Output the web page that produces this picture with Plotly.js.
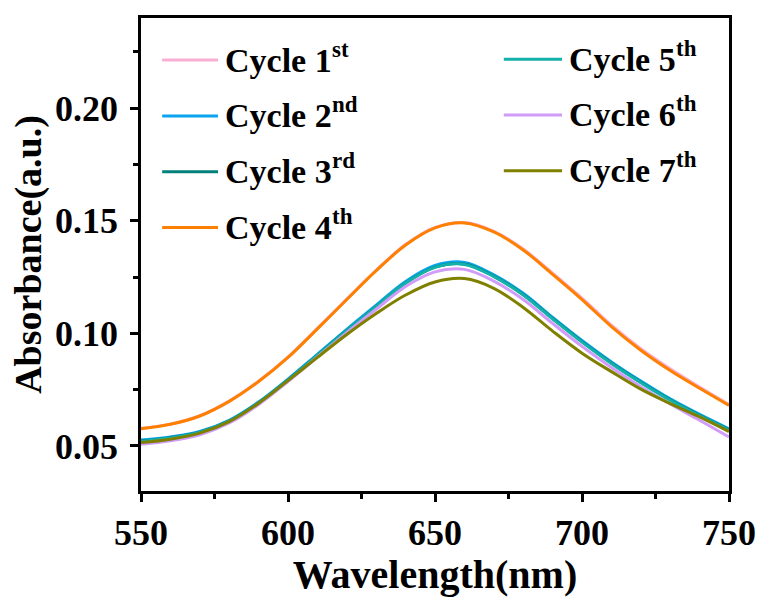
<!DOCTYPE html>
<html>
<head>
<meta charset="utf-8">
<script src="https://cdn.plot.ly/plotly-3.0.1.min.js"></script>
<style>html,body{margin:0;padding:0;background:#fff;}#chart{width:763px;height:597px;}</style>
</head>
<body>
<div id="chart"></div>
<script>
const wavelength = [550,560,570,580,590,600,610,620,630,640,650,660,670,680,690,700,710,720,730,740,750];
const cycle1 = [0.0578,0.0597,0.0634,0.0699,0.0787,0.0894,0.1022,0.1152,0.1280,0.1394,0.1470,0.1492,0.1453,0.1374,0.1267,0.1156,0.1036,0.0932,0.0843,0.0762,0.0684];
const cycle2 = [0.0526,0.0540,0.0564,0.0614,0.0695,0.0797,0.0907,0.1018,0.1125,0.1230,0.1301,0.1315,0.1260,0.1178,0.1071,0.0968,0.0873,0.0788,0.0709,0.0640,0.0576];
const cycle3 = [0.0522,0.0537,0.0561,0.0611,0.0692,0.0793,0.0903,0.1013,0.1119,0.1224,0.1294,0.1308,0.1254,0.1172,0.1066,0.0963,0.0868,0.0783,0.0705,0.0636,0.0572];
const cycle4 = [0.0576,0.0596,0.0633,0.0698,0.0786,0.0893,0.1020,0.1150,0.1278,0.1392,0.1468,0.1490,0.1450,0.1370,0.1262,0.1150,0.1030,0.0925,0.0835,0.0756,0.0680];
const cycle5 = [0.0520,0.0535,0.0560,0.0610,0.0691,0.0792,0.0902,0.1012,0.1118,0.1223,0.1293,0.1306,0.1252,0.1170,0.1064,0.0961,0.0866,0.0781,0.0703,0.0634,0.0570];
const cycle6 = [0.0508,0.0523,0.0550,0.0602,0.0684,0.0786,0.0895,0.1003,0.1107,0.1208,0.1273,0.1284,0.1232,0.1150,0.1044,0.0942,0.0848,0.0763,0.0686,0.0614,0.0540];
const cycle7 = [0.0515,0.0530,0.0557,0.0608,0.0690,0.0790,0.0893,0.0995,0.1088,0.1170,0.1228,0.1243,0.1200,0.1115,0.1010,0.0912,0.0830,0.0752,0.0688,0.0629,0.0564];
const seriesBase = ["Cycle 1","Cycle 2","Cycle 3","Cycle 4","Cycle 5","Cycle 6","Cycle 7"];
const seriesSup = ["st","nd","rd","th","th","th","th"];
const seriesColors = ["#F9AED3","#0AA5F0","#00807A","#FF7F00","#14B0AA","#D09CF8","#808000"];
const xTicks = [550,600,650,700,750];
const yTicks = [0.05,0.10,0.15,0.20];

const allY = [cycle1,cycle2,cycle3,cycle4,cycle5,cycle6,cycle7];
const FONT = "Liberation Serif, Times New Roman, serif";

const traces = allY.map((ys,i)=>({
  x: wavelength, y: ys, type:'scatter', mode:'lines',
  name: seriesBase[i] + seriesSup[i], showlegend:false,
  line:{color:seriesColors[i], width:3, shape:'spline', smoothing:1}
}));

// manual two-column legend (label + superscript as separate texts)
const shapes = [], annotations = [];
const legendCols = [{start:0, count:4, lx0:0.036, lx1:0.131, tx:0.140, top:0.911},
                    {start:4, count:3, lx0:0.617, lx1:0.716, tx:0.724, top:0.913}];
const rowStep = 0.118;
const baseWidth = 107; // width of "Cycle N" at 34px Liberation Serif Bold
legendCols.forEach(c=>{
  for(let k=0;k<c.count;k++){
    const i = c.start+k, yy = c.top - k*rowStep;
    shapes.push({type:'line', xref:'paper', yref:'paper', x0:c.lx0, x1:c.lx1, y0:yy, y1:yy,
                 line:{color:seriesColors[i], width:3}});
    annotations.push({xref:'paper', yref:'paper', x:c.tx, y:yy, xanchor:'left', yanchor:'middle',
                      showarrow:false, text:seriesBase[i],
                      font:{family:FONT, size:34, color:'#000', weight:'bold'}});
    annotations.push({xref:'paper', yref:'paper', x:c.tx, y:yy, xanchor:'left', yanchor:'middle',
                      xshift:baseWidth, yshift:11, showarrow:false, text:seriesSup[i],
                      font:{family:FONT, size:23, color:'#000', weight:'bold'}});
  }
});

const layout = {
  width:763, height:597,
  margin:{l:141, r:34, t:18, b:106},
  paper_bgcolor:'#fff', plot_bgcolor:'#fff',
  showlegend:false,
  font:{family:FONT, color:'#000', weight:'bold'},
  xaxis:{
    range:[550,750], tickvals:xTicks, ticktext:xTicks.map(String),
    ticks:'outside', ticklen:8, tickwidth:2.5, tickcolor:'#000',
    minor:{tickvals:[575,625,675,725], ticks:'outside', ticklen:5, tickwidth:2.5, tickcolor:'#000'},
    showline:true, linewidth:2.5, linecolor:'#000', mirror:true, showgrid:false, zeroline:false,
    tickfont:{family:FONT, size:36, weight:'bold', color:'#000'},
    title:{text:'Wavelength(nm)', font:{family:FONT, size:40, weight:'bold', color:'#000'}, standoff:12}
  },
  yaxis:{
    range:[0.03,0.24], tickvals:yTicks, ticktext:yTicks.map(v=>v.toFixed(2)),
    ticks:'outside', ticklen:8, tickwidth:2.5, tickcolor:'#000',
    minor:{tickvals:[0.075,0.125,0.175,0.225], ticks:'outside', ticklen:5, tickwidth:2.5, tickcolor:'#000'},
    showline:true, linewidth:2.5, linecolor:'#000', mirror:true, showgrid:false, zeroline:false,
    ticklabelstandoff:5,
    tickfont:{family:FONT, size:36, weight:'bold', color:'#000'},
    title:{text:'Absorbance(a.u.)', font:{family:FONT, size:38, weight:'bold', color:'#000'}, standoff:2}
  },
  shapes:shapes, annotations:annotations
};
Plotly.newPlot('chart', traces, layout, {displayModeBar:false});
</script>
</body>
</html>
